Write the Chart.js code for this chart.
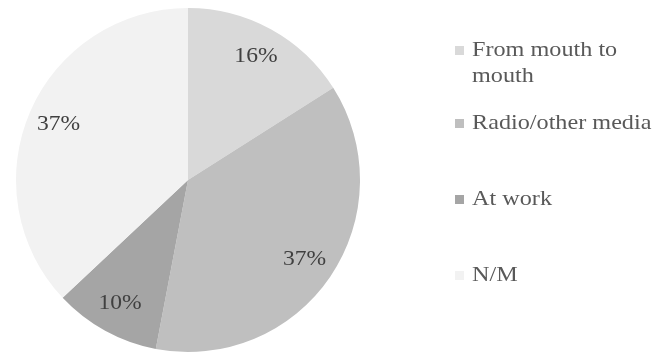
<!DOCTYPE html>
<html>
<head>
<meta charset="utf-8">
<script src="https://cdn.jsdelivr.net/npm/chart.js@4/dist/chart.umd.min.js"></script>
<style>
  html, body { margin: 0; padding: 0; background: #fff; }
  #wrap { width: 655px; height: 361px; }
</style>
</head>
<body>
<div id="wrap"><canvas id="chart" width="655" height="361"></canvas></div>
<script>
const labels = ['From mouth to mouth', 'Radio/other media', 'At work', 'N/M'];
const legendLines = [['From mouth to', 'mouth'], ['Radio/other media'], ['At work'], ['N/M']];
const shares = [16, 37, 10, 37];
const colors = ['#d9d9d9', '#bfbfbf', '#a5a5a5', '#f2f2f2'];
const legendY = [50, 123, 199, 275];

const FONT = '"Liberation Serif", "Times New Roman", serif';

// draw text slightly stretched horizontally, like the original serif face
function wideText(ctx, text, x, y, sx) {
  ctx.save();
  ctx.translate(x, y);
  ctx.scale(sx, 1);
  ctx.fillText(text, 0, 0);
  ctx.restore();
}

// percentage text inside each slice
const sliceLabels = {
  id: 'sliceLabels',
  afterDatasetsDraw(chart) {
    const ctx = chart.ctx;
    const meta = chart.getDatasetMeta(0);
    ctx.save();
    ctx.font = '22px ' + FONT;
    ctx.fillStyle = '#404040';
    ctx.textAlign = 'center';
    ctx.textBaseline = 'middle';
    meta.data.forEach((arc, i) => {
      const mid = (arc.startAngle + arc.endAngle) / 2;
      const r = arc.outerRadius * 0.82;
      wideText(ctx, shares[i] + '%', arc.x + Math.cos(mid) * r, arc.y + Math.sin(mid) * r, 1.07);
    });
    ctx.restore();
  }
};

// legend on the right, one square per category
const sideLegend = {
  id: 'sideLegend',
  afterDraw(chart) {
    const ctx = chart.ctx;
    ctx.save();
    ctx.font = '22px ' + FONT;
    ctx.textBaseline = 'middle';
    legendLines.forEach((lines, i) => {
      const y = legendY[i];
      ctx.fillStyle = colors[i];
      ctx.fillRect(455, y - 4, 9, 9);
      ctx.fillStyle = '#595959';
      lines.forEach((t, j) => wideText(ctx, t, 472, y + j * 26, 1.1));
    });
    ctx.restore();
  }
};

new Chart(document.getElementById('chart'), {
  type: 'pie',
  data: {
    labels,
    datasets: [{
      data: shares,
      backgroundColor: colors,
      borderWidth: 0
    }]
  },
  options: {
    responsive: false,
    animation: false,
    layout: { padding: { left: 16, right: 295, top: 8, bottom: 9 } },
    plugins: {
      legend: { display: false },
      tooltip: { enabled: false }
    }
  },
  plugins: [sliceLabels, sideLegend]
});
</script>
</body>
</html>
